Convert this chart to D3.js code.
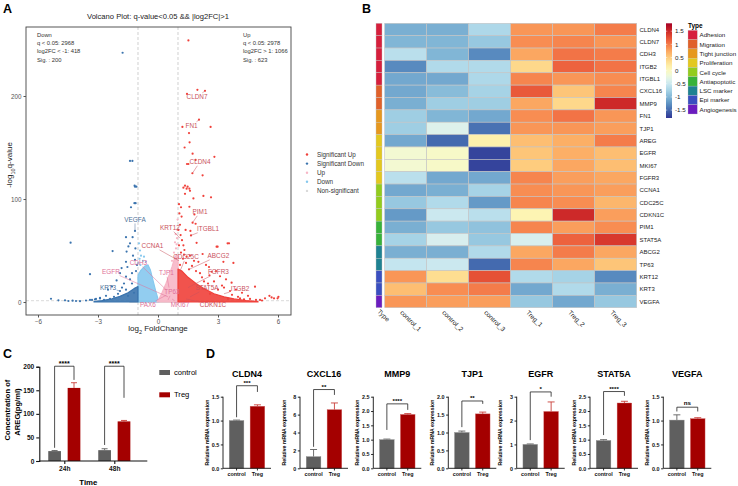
<!DOCTYPE html>
<html>
<head>
<meta charset="utf-8">
<script src="https://cdn.jsdelivr.net/npm/d3@7"></script>
<style>
  body { margin: 0; background: #fff; }
  svg { font-family: "Liberation Sans", Arial, Helvetica, sans-serif; }
</style>
</head>
<body>
<svg id="fig" width="738" height="486"></svg>
<script>
// ---------------- data : panel A (volcano) ----------------
const downSummary = ["Down", "q < 0.05: 2968", "log2FC < -1: 418", "Sig. : 200"];
const upSummary = ["Up", "q < 0.05: 2978", "log2FC > 1: 1066", "Sig. : 623"];

const sigUpPts = [
  [1.52,254],[1.97,206],[2.35,205],[1.45,202],[2.05,177],[1.22,170],[2.63,170],[1.55,164],
  [1.33,150],[1.58,155],[1.73,144],[2.82,141],[1.88,138],[1.45,134],[1.52,134],[1.72,125],
  [2.23,123],[1.35,113],[1.57,110],[1.43,110],[1.27,111],[1.48,112],[1.6,108],[2.27,103],
  [2.65,101.6],[1.35,105],[1.77,100.6],[1.57,92.5],[1.07,86],[1.18,83],[1.82,85],[1.73,77],
  [1.88,76],[1.38,70],[1.62,69],[1.65,64.7],[1.13,65],[1.93,57.5],[2.93,53.7],[3.55,57],
  [1.27,55],[1.32,50.5],[2.23,46.6],[1.43,44],[2.02,39],[1.55,31.7],[3.27,39],[3.68,18.8],
  [2.68,29.4],[2.57,26],[3.6,10.7],[4.85,14.9],[5.35,3.6],[5.68,4.5],[5.98,3.6],[5.8,3.6],
  [5.1,2],[3.48,57],[2.98,53.7],[3.77,38],[2.55,34],[5.57,6],[6.02,5],
  [1.1,75],[1.2,60],[1.05,55],[1.15,48],[1.25,42],[1.6,45],[1.8,40],[1.4,38],[2.4,36],
  [2.9,30],[3.1,25],[3.4,22],[2.2,24],[2.8,20],[3.2,16],[3.9,12],[4.2,9],[4.5,6],[4.0,5],
  [3.7,7],[4.6,3],[4.9,2],[5.2,1.5],[3.0,12],[2.5,18],[1.9,30],[1.7,35],[2.1,28],[1.3,46],
  [1.1,36],[4.3,2.5],[3.5,3],[2.6,8],[1.05,95],[1.02,70],[1.15,92],[3.3,14],[4.1,3.5],[2.3,20]
];
const sigDownPts = [
  [-1.77,242],[-1.4,137],[-1.28,137],[-1.17,113],[-1.15,112],[-1.18,96],[-1.12,96],[-1.35,92],
  [-1.15,69],[-1.6,63],[-1.27,63],[-4.37,57.6],[-1.4,57],[-1.48,54],[-2.27,49.5],[-1.57,49],
  [-1.6,39],[-1.15,41],[-1.82,33],[-1.53,34],[-3.4,27],[-1.9,28],[-1.6,24.6],[-2.07,21],
  [-1.4,22],[-1.9,10.7],[-1.25,45],[-1.1,30],[-1.3,28],[-1.7,18],[-2.3,15],[-2.5,12],[-1.8,14],
  [-2.0,8],[-2.6,6],[-2.9,4],[-3.1,3],[-3.3,2],[-3.6,1.5],[-3.9,0.8],[-4.27,1.3],[-4.48,1],
  [-4.65,1.6],[-4.98,1.6],[-5.35,3.2],[-3.4,2],[-3.15,2.5],[-2.9,3.5],[-2.2,5],[-1.5,6],
  [-1.2,9],[-2.7,2],[-4.1,1],[-1.08,112],[-1.13,52],[-1.05,36],[-2.4,3],[-1.3,18],[-1.6,12]
];
const upPts = [[0.9,52],[0.85,58],[0.95,62],[0.8,48],[0.7,40],[0.97,70],[0.93,56],[0.6,30],[0.88,66],[0.98,80]];
const downPts = [[-0.95,57],[-0.9,50],[-0.85,45],[-0.92,42],[-0.75,40],[-0.6,39],[-0.98,38],[-0.7,44],[-0.88,36]];

const sigUpCloud = [[1.0,0],[1.0,32],[1.2,30],[1.5,24],[1.9,18],[2.3,13],[2.8,8],[3.3,5],[3.8,3],[4.4,1.5],[5.0,0.5],[5.0,0]];
const sigDownCloud = [[-1.0,0],[-1.0,15],[-1.2,13],[-1.5,9],[-1.9,5.5],[-2.3,3.2],[-2.8,1.4],[-3.2,0.5],[-3.2,0]];
const upCloud = [[-0.05,0],[0.05,3],[0.2,9],[0.4,18],[0.55,26],[0.7,34],[0.82,42],[0.92,46],[1.0,44],[1.0,0]];
const downCloud = [[-1.0,0],[-1.0,26],[-0.85,31],[-0.65,35],[-0.5,36],[-0.38,31],[-0.25,21],[-0.12,11],[0.0,3],[0.05,0]];
const nsCloud = [[-1.4,-0.4],[1.4,-0.4],[1.4,1.2],[-1.4,1.2]];

// gene, label x, label y, point x, point y, group
const volcanoGenes = [
  ["CLDN7", 1.95, 197, 2.35, 205, "sigUp"],
  ["FN1", 1.68, 169, 2.05, 177, "sigUp"],
  ["CLDN4", 2.1, 134, 1.72, 125, "sigUp"],
  ["PIM1", 2.1, 85.4, 1.75, 77.7, "sigUp"],
  ["ITGBL1", 2.5, 69, 1.65, 64.7, "sigUp"],
  ["KRT12", 0.6, 70, 1.1, 62, "sigUp"],
  ["CCNA1", -0.28, 52.4, 1.05, 40, "sigUp"],
  ["CDC25C", 1.4, 41.7, 1.1, 30, "sigUp"],
  ["ABCG2", 3.02, 42.7, 1.55, 31.7, "sigUp"],
  ["CDH3", -0.98, 36, 0.4, 12, "up"],
  ["FGFR3", 3.02, 27.2, 1.5, 14, "sigUp"],
  ["EGFR", -2.35, 27.2, 0.5, 5, "up"],
  ["TJP1", 0.42, 26.2, 0.55, 14, "up"],
  ["KRT3", -2.5, 11.6, -1.9, 10.7, "sigDown"],
  ["ITGB2", 4.1, 10.7, 3.3, 8, "sigUp"],
  ["STAT5A", 2.45, 11.6, 1.6, 5, "sigUp"],
  ["TP63", 0.7, 7.8, 0.5, 2, "up"],
  ["PAX6", -0.5, -4.9, 0.43, 6.8, "up"],
  ["MKI67", 1.1, -4.9, 0.7, 3, "up"],
  ["CDKN1C", 2.75, -4.9, 1.4, 3, "sigUp"],
  ["VEGFA", -1.15, 78, -1.15, 69, "sigDown"]
];
const volcanoLegend = ["Significant Up", "Significant Down", "Up", "Down", "Non-significant"];

// ---------------- data : panel B (heatmap) ----------------
const hmSamples = ["control_1", "control_2", "control_3", "Treg_1", "Treg_2", "Treg_3"];
const hmGenes = ["CLDN4","CLDN7","CDH3","ITGB2","ITGBL1","CXCL16","MMP9","FN1","TJP1","AREG","EGFR","MKI67",
  "FGFR3","CCNA1","CDC25C","CDKN1C","PIM1","STAT5A","ABCG2","TP63","KRT12","KRT3","VEGFA"];
const hmValues = [
  [-1.05,-1.05,-0.7,  0.85, 0.85, 1.0],
  [-1.0, -1.0, -0.85, 0.9,  0.95, 0.85],
  [-0.62,-1.0, -1.3,  0.75, 1.05, 1.0],
  [-1.3, -0.68,-0.68, 0.4,  1.15, 1.05],
  [-1.1, -1.1, -0.7,  0.95, 0.85, 0.9],
  [-1.1, -0.95,-0.75, 1.2,  0.55, 0.95],
  [-1.05,-0.8, -0.8,  0.75, 0.4,  1.5],
  [-0.8, -1.0, -1.1,  0.9,  1.05, 0.85],
  [-0.8, -0.35,-1.45, 0.85, 0.85, 0.8],
  [-1.1, -1.5,  0.15, 0.6,  0.7,  1.0],
  [-0.12,-0.05,-1.72, 0.55, 0.7,  0.6],
  [-0.12,-0.05,-1.72, 0.5,  0.75, 0.6],
  [-0.62,-1.1, -1.1,  0.95, 0.8,  0.75],
  [-1.1, -1.05,-0.75, 0.9,  0.85, 0.8],
  [-0.85,-0.68,-1.2,  0.95, 0.9,  0.65],
  [-1.2, -0.5, -0.62, 0.1,  1.5,  0.8],
  [-1.05,-0.85,-0.9,  0.95, 0.8,  0.9],
  [-0.75,-0.4, -0.85,-0.4,  1.15, 1.4],
  [-1.05,-1.05,-0.68, 0.75, 1.0,  0.75],
  [-0.55,-0.5, -1.5,  0.95, 0.75, 0.55],
  [0.85,  0.35, 1.25,-0.68,-0.75,-1.3],
  [0.6,   0.9,  1.0, -1.1, -0.68,-1.05],
  [0.85,  0.8,  0.8, -0.85,-1.1, -0.85]
];
const hmTypes = ["Adhesion","Adhesion","Adhesion","Adhesion","Adhesion","Migration","Migration",
  "Tight junction","Tight junction","Proliferation","Proliferation","Proliferation","Proliferation",
  "Cell cycle","Cell cycle","Cell cycle","Antiapoptotic","Antiapoptotic","LSC marker","LSC marker",
  "Epi marker","Epi marker","Angiogenesis"];
const typeNames = ["Adhesion","Migration","Tight junction","Proliferation","Cell cycle","Antiapoptotic","LSC marker","Epi marker","Angiogenesis"];
const typeColors = ["#d61f3c","#e0612a","#e6981f","#e3c81f","#93cc1e","#38b23a","#1f8292","#3a4fc0","#6b1cbf"];
const hmLegendTicks = [1.5, 1, 0.5, 0, -0.5, -1, -1.5];

// ---------------- data : panel C (AREG ELISA) ----------------
const aregTimes = ["24h", "48h"];
const aregControl = [21, 23];
const aregControlErr = [1.2, 3];
const aregTreg = [155, 84];
const aregTregErr = [11, 2];
const aregSig = ["****", "****"];
const aregBracket = [201, 201];
const aregLegL = [28, 34];
const aregLegR = [172, 134];
const aregTicks = [0, 50, 100, 150, 200];

// ---------------- data : panel D (qPCR) ----------------
const qpcrGenes = ["CLDN4", "CXCL16", "MMP9", "TJP1", "EGFR", "STAT5A", "VEGFA"];
const qpcrControl = [1.0, 1.3, 1.0, 1.0, 1.0, 0.97, 1.01];
const qpcrControlErr = [0.01, 0.8, 0.02, 0.04, 0.02, 0.03, 0.11];
const qpcrTreg = [1.30, 6.55, 1.88, 1.52, 2.38, 2.28, 1.04];
const qpcrTregErr = [0.03, 0.75, 0.03, 0.05, 0.4, 0.06, 0.02];
const qpcrMax = [1.5, 8, 2.5, 2.0, 3, 2.5, 1.5];
const qpcrStep = [0.5, 2, 0.5, 0.5, 1, 0.5, 0.5];
const qpcrSig = ["***", "**", "****", "**", "*", "****", "ns"];
const qpcrBracket = [1.73, 8.8, 2.25, 1.88, 3.2, 2.68, 1.28];
const qpcrLegL = [1.07, 2.4, 1.34, 1.15, 1.18, 1.16, 1.19];
const qpcrLegR = [1.6, 8.2, 2.04, 1.8, 3.0, 2.53, 1.19];

// ---------------- drawing ----------------
const svg = d3.select("#fig");

// panel letters
[["A", 3, 12.5], ["B", 362, 12.5], ["C", 3, 358], ["D", 206, 358]].forEach(([t, x, y]) => {
  svg.append("text").attr("x", x).attr("y", y).text(t)
     .style("font-size", "12.5px").style("font-weight", "bold");
});

// ===== A: volcano =====
const vx = d3.scaleLinear().domain([-6.6, 6.65]).range([26, 291]);
const vy = d3.scaleLinear().domain([-12.6, 267]).range([315, 27]);
const gA = svg.append("g");
const colSigUp = "#f0403a", colSigDown = "#3b74ae", colUp = "#f7b6c6", colDown = "#86c8ee", colNs = "#dadada";

gA.append("clipPath").attr("id", "vclip").append("rect")
  .attr("x", vx.range()[0]).attr("y", vy.range()[1])
  .attr("width", vx.range()[1] - vx.range()[0]).attr("height", vy.range()[0] - vy.range()[1]);

gA.append("text").attr("x", vx(0)).attr("y", 19).attr("text-anchor", "middle")
  .style("font-size", "7.6px").style("fill", "#222")
  .text("Volcano Plot: q-value<0.05 && |log2FC|>1");

const plotA = gA.append("g").attr("clip-path", "url(#vclip)");

// threshold lines
[-1, 1].forEach(v => {
  plotA.append("line").attr("x1", vx(v)).attr("x2", vx(v)).attr("y1", vy.range()[0]).attr("y2", vy.range()[1])
    .attr("stroke", "#bbb").attr("stroke-width", 0.7).attr("stroke-dasharray", "3,2");
});
plotA.append("line").attr("x1", vx.range()[0]).attr("x2", vx.range()[1]).attr("y1", vy(1.3)).attr("y2", vy(1.3))
  .attr("stroke", "#ccc").attr("stroke-width", 0.7).attr("stroke-dasharray", "3,2");

const area = d3.line().x(d => vx(d[0])).y(d => vy(d[1]));
[[nsCloud, colNs], [downCloud, colDown], [upCloud, colUp], [sigDownCloud, colSigDown], [sigUpCloud, colSigUp]]
  .forEach(([poly, c]) => {
    plotA.append("path").attr("d", area(poly) + "Z").attr("fill", c).attr("fill-opacity", 0.9)
      .attr("stroke", c).attr("stroke-width", 1.2).attr("stroke-linejoin", "round");
  });

[[downPts, colDown], [upPts, colUp], [sigDownPts, colSigDown], [sigUpPts, colSigUp]].forEach(([pts, c]) => {
  plotA.selectAll(null).data(pts).enter().append("circle")
    .attr("cx", d => vx(d[0])).attr("cy", d => vy(d[1])).attr("r", 1.1).attr("fill", c);
});

// gene labels
const labelCol = { sigUp: "#c9525c", up: "#e06f98", sigDown: "#4c6f98" };
volcanoGenes.forEach(([g, lx, ly, px, py, grp]) => {
  const x0 = vx(lx), y0 = vy(ly) - 2.2, x1 = vx(px), y1 = vy(py);
  const hw = g.length * 1.9 + 1, hh = 4;
  const dx = x1 - x0, dy = y1 - y0;
  const t = Math.min(dx === 0 ? 9 : hw / Math.abs(dx), dy === 0 ? 9 : hh / Math.abs(dy));
  if (t < 1) {
    gA.append("line").attr("x1", x0 + dx * t).attr("y1", y0 + dy * t).attr("x2", x1).attr("y2", y1)
      .attr("stroke", labelCol[grp]).attr("stroke-width", 0.5);
  }
  gA.append("text").attr("x", x0).attr("y", y0 + 2.2).attr("text-anchor", "middle")
    .style("font-size", "6.4px").style("fill", labelCol[grp]).text(g);
});

// border & axes
gA.append("rect").attr("x", vx.range()[0]).attr("y", vy.range()[1])
  .attr("width", vx.range()[1] - vx.range()[0]).attr("height", vy.range()[0] - vy.range()[1])
  .attr("fill", "none").attr("stroke", "#444").attr("stroke-width", 0.9);

const axB = gA.append("g").attr("transform", `translate(0,${vy.range()[0]})`)
  .call(d3.axisBottom(vx).tickValues([-6, -3, 0, 3, 6]).tickSize(2.5).tickPadding(2));
const axL = gA.append("g").attr("transform", `translate(${vx.range()[0]},0)`)
  .call(d3.axisLeft(vy).tickValues([0, 100, 200]).tickSize(2.5).tickPadding(2));
[axB, axL].forEach(a => {
  a.select(".domain").remove();
  a.selectAll("line").attr("stroke", "#555");
  a.selectAll("text").style("font-size", "6.3px").style("fill", "#555").style("font-family", null);
});

const xl = gA.append("text").attr("x", vx(0)).attr("y", 331).attr("text-anchor", "middle")
  .style("font-size", "8px").style("fill", "#222");
xl.append("tspan").text("log");
xl.append("tspan").attr("baseline-shift", "sub").style("font-size", "5.5px").text("2");
xl.append("tspan").text(" FoldChange");

const yl = gA.append("text").attr("transform", "translate(12,165) rotate(-90)").attr("text-anchor", "middle")
  .style("font-size", "8px").style("fill", "#222");
yl.append("tspan").text("-log");
yl.append("tspan").attr("baseline-shift", "sub").style("font-size", "5.5px").text("10");
yl.append("tspan").text("q-value");

downSummary.forEach((s, i) => {
  gA.append("text").attr("x", 37).attr("y", 37 + i * 8.2).style("font-size", "5.8px").style("fill", "#333").text(s);
});
upSummary.forEach((s, i) => {
  gA.append("text").attr("x", 243).attr("y", 37 + i * 8.2).style("font-size", "5.8px").style("fill", "#333").text(s);
});

// legend
const legCols = [colSigUp, colSigDown, colUp, colDown, colNs];
volcanoLegend.forEach((s, i) => {
  const y = 154.5 + i * 9.1;
  gA.append("circle").attr("cx", 307).attr("cy", y).attr("r", 1.2).attr("fill", legCols[i]);
  gA.append("text").attr("x", 317).attr("y", y + 2.2).style("font-size", "6.3px").style("fill", "#333").text(s);
});

// ===== B: heatmap =====
const gB = svg.append("g");
const hx = d3.scaleBand().domain(hmSamples).range([384.7, 636.7]);
const hy = d3.scaleBand().domain(hmGenes).range([23.3, 307.7]);
const heatColor = d3.scaleSequential(t => d3.interpolateRdYlBu(1 - t)).domain([-1.8, 1.8]);
const typeColor = d3.scaleOrdinal().domain(typeNames).range(typeColors);

hmGenes.forEach((g, r) => {
  hmSamples.forEach((s, c) => {
    gB.append("rect").attr("x", hx(s)).attr("y", hy(g)).attr("width", hx.bandwidth()).attr("height", hy.bandwidth())
      .attr("fill", heatColor(hmValues[r][c])).attr("stroke", "#c4c4c4").attr("stroke-width", 0.6);
  });
  gB.append("rect").attr("x", 376).attr("y", hy(g)).attr("width", 6).attr("height", hy.bandwidth())
    .attr("fill", typeColor(hmTypes[r])).attr("stroke", "#c4c4c4").attr("stroke-width", 0.4);
  gB.append("text").attr("x", 639.5).attr("y", hy(g) + hy.bandwidth() / 2 + 2.1)
    .style("font-size", "6px").style("fill", "#222").text(g);
});

gB.append("text").attr("transform", "translate(377,312) rotate(45)").style("font-size", "6.5px").style("fill", "#222").text("Type");
hmSamples.forEach(s => {
  gB.append("text").attr("transform", `translate(${hx(s) + hx.bandwidth() / 2 - 6},313) rotate(45)`)
    .style("font-size", "6.5px").style("fill", "#222").text(s);
});

// colour bar
const cbScale = d3.scaleLinear().domain([1.8, -1.8]).range([23.3, 118]);
const grad = gB.append("defs").append("linearGradient").attr("id", "hmgrad")
  .attr("x1", 0).attr("y1", 0).attr("x2", 0).attr("y2", 1);
d3.range(0, 1.0001, 0.05).forEach(o => {
  grad.append("stop").attr("offset", o).attr("stop-color", heatColor(1.8 - o * 3.6));
});
gB.append("rect").attr("x", 666).attr("y", cbScale(1.8)).attr("width", 6).attr("height", cbScale(-1.8) - cbScale(1.8))
  .attr("fill", "url(#hmgrad)");
hmLegendTicks.forEach(v => {
  gB.append("line").attr("x1", 666).attr("x2", 667.3).attr("y1", cbScale(v)).attr("y2", cbScale(v)).attr("stroke", "#fff").attr("stroke-width", 0.5);
  gB.append("line").attr("x1", 670.7).attr("x2", 672).attr("y1", cbScale(v)).attr("y2", cbScale(v)).attr("stroke", "#fff").attr("stroke-width", 0.5);
  gB.append("text").attr("x", 675).attr("y", cbScale(v) + 2.2).style("font-size", "6.2px").style("fill", "#222").text(v);
});

gB.append("text").attr("x", 688).attr("y", 28).style("font-size", "6.5px").style("font-weight", "bold").text("Type");
typeNames.forEach((t, i) => {
  gB.append("rect").attr("x", 688).attr("y", 30.3 + i * 9.3).attr("width", 9.3).attr("height", 9.3)
    .attr("fill", typeColor(t)).attr("stroke", "#c4c4c4").attr("stroke-width", 0.3);
  gB.append("text").attr("x", 699.5).attr("y", 30.3 + i * 9.3 + 7).style("font-size", "6.2px").style("fill", "#222").text(t);
});

// ===== bar-chart helpers =====
const ctrlCol = "#5f5f5f", tregCol = "#a40000", tregErrCol = "#c9403a";

function errBar(g, x, y, yTop, col, w) {
  g.append("line").attr("x1", x).attr("x2", x).attr("y1", y).attr("y2", yTop).attr("stroke", col).attr("stroke-width", 0.9);
  g.append("line").attr("x1", x - w).attr("x2", x + w).attr("y1", yTop).attr("y2", yTop).attr("stroke", col).attr("stroke-width", 0.9);
}
function bracket(g, xl, xr, yTop, yL, yR, label, fs) {
  g.append("path").attr("d", `M${xl},${yL}V${yTop}H${xr}V${yR}`).attr("fill", "none")
    .attr("stroke", "#222").attr("stroke-width", 0.8);
  g.append("text").attr("x", (xl + xr) / 2).attr("y", yTop - (label === "ns" ? 2 : 0.5)).attr("text-anchor", "middle")
    .style("font-size", fs).style("font-weight", "bold").text(label);
}

// ===== C: AREG =====
const gC = svg.append("g");
const cy = d3.scaleLinear().domain([0, 200]).range([461, 366.7]);
const cx = d3.scalePoint().domain(aregTimes).range([39.3, 139.3]).padding(0.5);
const cOff = 9.7, cBw = 12.7;

aregTimes.forEach((t, i) => {
  const xc = cx(t) - cOff, xt = cx(t) + cOff;
  errBar(gC, xc, cy(aregControl[i]), cy(aregControl[i] + aregControlErr[i]), ctrlCol, 3);
  errBar(gC, xt, cy(aregTreg[i]), cy(aregTreg[i] + aregTregErr[i]), tregErrCol, 3);
  gC.append("rect").attr("x", xc - cBw / 2).attr("y", cy(aregControl[i])).attr("width", cBw)
    .attr("height", cy(0) - cy(aregControl[i])).attr("fill", ctrlCol);
  gC.append("rect").attr("x", xt - cBw / 2).attr("y", cy(aregTreg[i])).attr("width", cBw)
    .attr("height", cy(0) - cy(aregTreg[i])).attr("fill", tregCol);
  bracket(gC, xc, xt, cy(aregBracket[i]), cy(aregLegL[i]), cy(aregLegR[i]), aregSig[i], "7px");
});

const cAxL = gC.append("g").attr("transform", "translate(39.3,0)")
  .call(d3.axisLeft(cy).tickValues(aregTicks).tickSize(3).tickPadding(2));
const cAxB = gC.append("g").attr("transform", `translate(0,${cy(0)})`)
  .call(d3.axisBottom(cx).tickSize(3).tickPadding(2));
cAxB.select(".domain").attr("d", `M39.3,0H147.3`);
[cAxL, cAxB].forEach(a => {
  a.selectAll("path,line").attr("stroke", "#111").attr("stroke-width", 1.1);
  a.selectAll("text").style("font-size", "6.6px").style("font-weight", "bold").style("fill", "#111").style("font-family", null);
});
gC.append("text").attr("x", 88.3).attr("y", 485).attr("text-anchor", "middle")
  .style("font-size", "7.8px").style("font-weight", "bold").text("Time");
gC.append("text").attr("transform", "translate(10,410) rotate(-90)").attr("text-anchor", "middle")
  .style("font-size", "7.6px").style("font-weight", "bold").text("Concentration of");
gC.append("text").attr("transform", "translate(20,412) rotate(-90)").attr("text-anchor", "middle")
  .style("font-size", "7.6px").style("font-weight", "bold").text("AREG(pg/ml)");
[["control", ctrlCol, 370], ["Treg", tregCol, 392.3]].forEach(([s, c, y]) => {
  gC.append("rect").attr("x", 159.3).attr("y", y).attr("width", 10.7).attr("height", 5).attr("fill", c);
  gC.append("text").attr("x", 174).attr("y", y + 5).style("font-size", "7.6px").text(s);
});

// ===== D: qPCR =====
const gD = svg.append("g");
const dAxisX = [223, 300, 373.3, 448.3, 516.7, 590, 663.3];
const dy0 = 468.3, dyTop = 396.7;

qpcrGenes.forEach((gene, i) => {
  const g = gD.append("g").attr("transform", `translate(${dAxisX[i]},0)`);
  const y = d3.scaleLinear().domain([0, qpcrMax[i]]).range([dy0, dyTop]);
  const x = d3.scaleBand().domain(["control", "Treg"]).range([0, 48]).paddingInner(0.3).paddingOuter(0.3);
  const bw = x.bandwidth();
  const xc = x("control") + bw / 2, xt = x("Treg") + bw / 2;

  errBar(g, xc, y(qpcrControl[i]), y(qpcrControl[i] + qpcrControlErr[i]), ctrlCol, 3.5);
  errBar(g, xt, y(qpcrTreg[i]), y(qpcrTreg[i] + qpcrTregErr[i]), tregErrCol, 3.5);
  g.append("rect").attr("x", x("control")).attr("y", y(qpcrControl[i])).attr("width", bw)
    .attr("height", y(0) - y(qpcrControl[i])).attr("fill", ctrlCol).attr("stroke", "#8a8a8a").attr("stroke-width", 0.4);
  g.append("rect").attr("x", x("Treg")).attr("y", y(qpcrTreg[i])).attr("width", bw)
    .attr("height", y(0) - y(qpcrTreg[i])).attr("fill", tregCol).attr("stroke", "#d06060").attr("stroke-width", 0.4);
  bracket(g, xc, xt, y(qpcrBracket[i]), y(qpcrLegL[i]), y(qpcrLegR[i]), qpcrSig[i], "6.2px");

  const ticks = d3.range(0, qpcrMax[i] + 1e-9, qpcrStep[i]);
  const fmt = qpcrStep[i] < 1 ? d3.format(".1f") : d3.format("d");
  const aL = g.append("g").call(d3.axisLeft(y).tickValues(ticks).tickFormat(fmt).tickSize(2.2).tickPadding(1.5));
  const aB = g.append("g").attr("transform", `translate(0,${dy0})`).call(d3.axisBottom(x).tickSize(2.2).tickPadding(1.5));
  aL.select(".domain").attr("d", `M0,${dy0}V${dyTop}`);
  aB.select(".domain").attr("d", "M0,0H48");
  [aL, aB].forEach(a => {
    a.selectAll("path,line").attr("stroke", "#111").attr("stroke-width", 0.9);
    a.selectAll("text").style("font-size", "5.4px").style("font-weight", "bold").style("fill", "#111").style("font-family", null);
  });
  g.append("text").attr("transform", `translate(-14.5,${(dy0 + dyTop) / 2}) rotate(-90)`).attr("text-anchor", "middle")
    .style("font-size", "5.2px").style("font-weight", "bold").text("Relative mRNA expression");
  g.append("text").attr("x", 24).attr("y", 377).attr("text-anchor", "middle")
    .style("font-size", "9px").style("font-weight", "bold").text(gene);
});
</script>
</body>
</html>
